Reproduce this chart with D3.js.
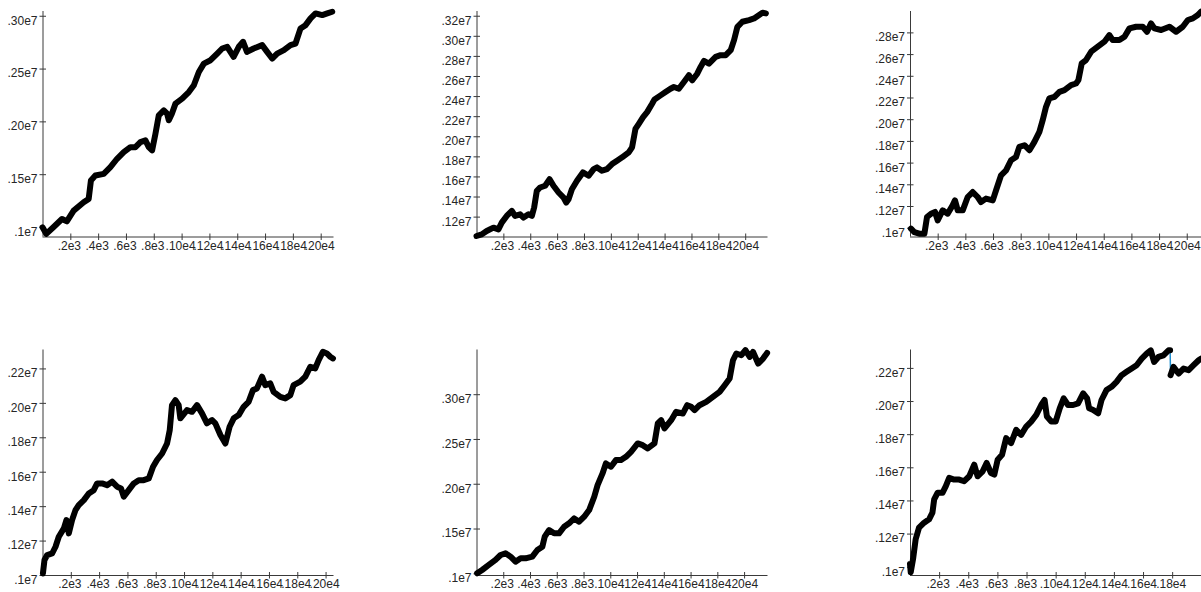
<!DOCTYPE html>
<html>
<head>
<meta charset="utf-8">
<script src="https://cdn.jsdelivr.net/npm/d3@7"></script>
<style>
  html, body { margin: 0; padding: 0; background: #fff; }
  svg { display: block; }
</style>
</head>
<body>
<svg id="chart" width="1201" height="592"></svg>
<script>
// ---- DATA (values in millions; x = sample index) ----
const xTickValues = [200, 400, 600, 800, 1000, 1200, 1400, 1600, 1800, 2000];
const xTickLabels = [".2e3", ".4e3", ".6e3", ".8e3", ".10e4", ".12e4", ".14e4", ".16e4", ".18e4", ".20e4"];

const p1x = [0, 27, 80, 140, 175, 224, 296, 332, 348, 380, 440, 488, 536, 584, 632, 668, 704, 740, 764, 788, 812, 836, 872, 896, 908, 930, 956, 1004, 1052, 1088, 1124, 1160, 1208, 1256, 1292, 1328, 1374, 1411, 1442, 1470, 1518, 1579, 1615, 1651, 1687, 1735, 1783, 1819, 1855, 1891, 1927, 1963, 2011, 2047, 2083];
const p1y = [0.997, 0.935, 1.0, 1.076, 1.054, 1.155, 1.234, 1.266, 1.44, 1.487, 1.503, 1.566, 1.646, 1.709, 1.756, 1.756, 1.804, 1.82, 1.756, 1.725, 1.883, 2.057, 2.104, 2.073, 2.01, 2.073, 2.168, 2.215, 2.278, 2.342, 2.468, 2.547, 2.579, 2.642, 2.69, 2.706, 2.611, 2.706, 2.753, 2.658, 2.69, 2.722, 2.658, 2.595, 2.642, 2.674, 2.722, 2.737, 2.88, 2.911, 2.975, 3.022, 3.006, 3.022, 3.038];

const p2x = [0, 39, 76, 126, 163, 188, 225, 263, 287, 325, 350, 387, 412, 429, 449, 474, 511, 544, 573, 611, 648, 668, 685, 710, 748, 792, 835, 872, 897, 934, 971, 1009, 1046, 1084, 1133, 1158, 1183, 1208, 1240, 1270, 1307, 1325, 1370, 1407, 1444, 1469, 1506, 1544, 1581, 1606, 1643, 1668, 1693, 1730, 1780, 1817, 1855, 1892, 1917, 1942, 1979, 2029, 2066, 2104, 2129, 2154];
const p2y = [1.007, 1.023, 1.057, 1.09, 1.073, 1.14, 1.207, 1.257, 1.207, 1.223, 1.19, 1.223, 1.207, 1.29, 1.457, 1.49, 1.507, 1.573, 1.507, 1.44, 1.39, 1.34, 1.373, 1.473, 1.557, 1.64, 1.607, 1.673, 1.69, 1.657, 1.673, 1.723, 1.757, 1.79, 1.84, 1.89, 2.073, 2.123, 2.19, 2.24, 2.323, 2.367, 2.407, 2.44, 2.473, 2.49, 2.473, 2.54, 2.607, 2.557, 2.623, 2.69, 2.75, 2.723, 2.79, 2.807, 2.807, 2.857, 2.957, 3.09, 3.14, 3.157, 3.173, 3.207, 3.23, 3.223];

const p3x = [7, 31, 67, 104, 123, 152, 181, 200, 236, 272, 308, 325, 345, 381, 417, 453, 489, 513, 549, 598, 622, 658, 694, 730, 766, 790, 827, 863, 899, 935, 959, 983, 1007, 1044, 1080, 1116, 1164, 1200, 1217, 1241, 1272, 1309, 1357, 1405, 1441, 1465, 1513, 1550, 1586, 1634, 1682, 1713, 1742, 1766, 1815, 1875, 1923, 1971, 2008, 2044, 2080, 2104];
const p3y = [0.991, 0.96, 0.945, 0.945, 1.098, 1.129, 1.145, 1.068, 1.16, 1.129, 1.206, 1.252, 1.16, 1.16, 1.283, 1.329, 1.283, 1.237, 1.268, 1.252, 1.345, 1.483, 1.529, 1.622, 1.652, 1.745, 1.76, 1.714, 1.791, 1.883, 1.991, 2.114, 2.191, 2.206, 2.252, 2.268, 2.314, 2.329, 2.36, 2.514, 2.545, 2.622, 2.668, 2.714, 2.775, 2.729, 2.729, 2.76, 2.837, 2.852, 2.852, 2.806, 2.883, 2.837, 2.822, 2.852, 2.806, 2.852, 2.914, 2.929, 2.96, 2.991];

const p4x = [3, 14, 33, 68, 92, 115, 151, 169, 186, 209, 233, 256, 292, 327, 362, 386, 421, 456, 492, 527, 555, 574, 609, 645, 680, 715, 751, 781, 809, 845, 880, 899, 915, 939, 962, 974, 1021, 1056, 1092, 1127, 1162, 1198, 1221, 1257, 1292, 1322, 1351, 1386, 1421, 1456, 1487, 1515, 1551, 1574, 1609, 1633, 1680, 1715, 1751, 1774, 1821, 1857, 1892, 1927, 1951, 1981, 2009, 2033, 2052];
const p4y = [1.009, 1.087, 1.116, 1.125, 1.164, 1.222, 1.271, 1.319, 1.242, 1.319, 1.377, 1.406, 1.435, 1.474, 1.493, 1.532, 1.532, 1.522, 1.542, 1.513, 1.503, 1.455, 1.493, 1.532, 1.551, 1.551, 1.561, 1.629, 1.668, 1.706, 1.764, 1.842, 1.987, 2.016, 1.987, 1.91, 1.958, 1.948, 1.987, 1.939, 1.881, 1.9, 1.881, 1.813, 1.764, 1.861, 1.91, 1.929, 1.977, 2.006, 2.074, 2.084, 2.152, 2.103, 2.113, 2.064, 2.035, 2.026, 2.045, 2.103, 2.123, 2.152, 2.21, 2.2, 2.248, 2.297, 2.287, 2.268, 2.258];

const p5x = [5, 42, 92, 142, 180, 217, 255, 292, 330, 367, 417, 455, 492, 510, 542, 580, 617, 655, 692, 730, 767, 805, 842, 880, 905, 942, 967, 1005, 1042, 1080, 1117, 1155, 1205, 1242, 1280, 1330, 1355, 1380, 1405, 1455, 1492, 1542, 1575, 1605, 1630, 1667, 1717, 1767, 1817, 1855, 1892, 1917, 1942, 1980, 2010, 2042, 2067, 2105, 2142, 2172];
const p5y = [1.0, 1.037, 1.093, 1.149, 1.204, 1.223, 1.186, 1.13, 1.167, 1.167, 1.186, 1.26, 1.297, 1.409, 1.483, 1.446, 1.446, 1.52, 1.558, 1.613, 1.576, 1.632, 1.706, 1.855, 1.985, 2.115, 2.227, 2.19, 2.264, 2.264, 2.301, 2.357, 2.45, 2.431, 2.394, 2.45, 2.673, 2.71, 2.617, 2.71, 2.803, 2.784, 2.877, 2.859, 2.822, 2.877, 2.914, 2.97, 3.026, 3.1, 3.175, 3.379, 3.454, 3.435, 3.491, 3.416, 3.472, 3.342, 3.398, 3.461];

const p6x = [0, 5, 21, 39, 62, 97, 131, 154, 166, 189, 223, 246, 269, 303, 338, 372, 407, 441, 464, 499, 526, 556, 579, 602, 632, 660, 694, 729, 763, 798, 832, 867, 901, 924, 940, 970, 1000, 1028, 1055, 1085, 1120, 1154, 1189, 1216, 1230, 1258, 1292, 1315, 1349, 1384, 1418, 1453, 1487, 1522, 1556, 1591, 1625, 1653, 1676, 1706, 1740, 1775, 1786, 1789, 1809, 1844, 1878, 1913, 1947, 1982, 1998];
const p6y = [1.016, 0.966, 1.046, 1.166, 1.236, 1.266, 1.286, 1.326, 1.406, 1.446, 1.446, 1.486, 1.536, 1.526, 1.526, 1.516, 1.546, 1.616, 1.546, 1.576, 1.626, 1.566, 1.556, 1.646, 1.676, 1.776, 1.746, 1.826, 1.796, 1.846, 1.876, 1.916, 1.976, 2.006, 1.906, 1.876, 1.876, 1.956, 2.016, 1.976, 1.976, 1.986, 2.046, 2.016, 1.956, 1.946, 1.926, 2.006, 2.066, 2.086, 2.116, 2.156, 2.176, 2.196, 2.216, 2.256, 2.286, 2.306, 2.236, 2.266, 2.276, 2.306, 2.306, 2.156, 2.206, 2.166, 2.196, 2.186, 2.216, 2.246, 2.256];

// y tick values (millions) and their labels, per panel
const p1yTicks = [1.0, 1.5, 2.0, 2.5, 3.0];
const p1yLabels = [".1e7", ".15e7", ".20e7", ".25e7", ".30e7"];
const p2yTicks = [1.2, 1.4, 1.6, 1.8, 2.0, 2.2, 2.4, 2.6, 2.8, 3.0, 3.2];
const p2yLabels = [".12e7", ".14e7", ".16e7", ".18e7", ".20e7", ".22e7", ".24e7", ".26e7", ".28e7", ".30e7", ".32e7"];
const p3yTicks = [1.0, 1.2, 1.4, 1.6, 1.8, 2.0, 2.2, 2.4, 2.6, 2.8];
const p3yLabels = [".1e7", ".12e7", ".14e7", ".16e7", ".18e7", ".20e7", ".22e7", ".24e7", ".26e7", ".28e7"];
const p4yTicks = [1.0, 1.2, 1.4, 1.6, 1.8, 2.0, 2.2];
const p4yLabels = [".1e7", ".12e7", ".14e7", ".16e7", ".18e7", ".20e7", ".22e7"];
const p5yTicks = [1.0, 1.5, 2.0, 2.5, 3.0];
const p5yLabels = [".1e7", ".15e7", ".20e7", ".25e7", ".30e7"];
const p6yTicks = [1.0, 1.2, 1.4, 1.6, 1.8, 2.0, 2.2];
const p6yLabels = [".1e7", ".12e7", ".14e7", ".16e7", ".18e7", ".20e7", ".22e7"];

// axis extents (sample count and value range shown by each panel)
const xMax = [2092, 2166, 2103, 2056, 2175, 1998];
const yMin = [0.91, 1.002, 0.919, 1.0, 0.981, 0.95];
const yMax = [3.045, 3.247, 2.997, 2.31, 3.499, 2.311];

// ---- LAYOUT ----
const panels = [
  {x: p1x, y: p1y, yt: p1yTicks, yl: p1yLabels},
  {x: p2x, y: p2y, yt: p2yTicks, yl: p2yLabels},
  {x: p3x, y: p3y, yt: p3yTicks, yl: p3yLabels},
  {x: p4x, y: p4y, yt: p4yTicks, yl: p4yLabels},
  {x: p5x, y: p5y, yt: p5yTicks, yl: p5yLabels},
  {x: p6x, y: p6y, yt: p6yTicks, yl: p6yLabels}
];
const colLeft = [42.5, 476.5, 910];
const rowTop = [11, 349.5];
const rowBottom = [236.5, 575];
const plotW = 291;

const axisColor = "#3a3a3a";
const textColor = "#262626";
const font = "Arial, 'Liberation Sans', sans-serif";

const svg = d3.select("#chart");

panels.forEach((p, i) => {
  const c = i % 3, r = Math.floor(i / 3);
  const left = colLeft[c], top = rowTop[r], bottom = rowBottom[r];
  const x = d3.scaleLinear().domain([0, xMax[i]]).range([left, left + plotW]);
  const y = d3.scaleLinear().domain([yMin[i], yMax[i]]).range([bottom, top]);
  const g = svg.append("g");

  // Y axis
  const yAxis = d3.axisLeft(y)
    .tickValues(p.yt)
    .tickFormat((d, k) => p.yl[k])
    .tickSizeInner(3).tickSizeOuter(0).tickPadding(6);
  const ya = g.append("g").attr("transform", `translate(${left},0)`).call(yAxis);
  ya.select(".domain").attr("stroke", axisColor).attr("d", `M0.5,${top}V${bottom}`);
  ya.selectAll(".tick line").attr("stroke", axisColor).attr("x1", 3.5).attr("x2", -3);
  ya.selectAll(".tick text")
    .attr("fill", textColor).attr("font-family", font).attr("font-size", 12)
    .attr("dy", "0.7em").attr("y", 0).attr("x", -5);

  // X axis
  const xt = xTickValues.map((v, k) => ({v, l: xTickLabels[k]})).filter(t => t.v <= xMax[i]);
  const xAxis = d3.axisBottom(x)
    .tickValues(xt.map(t => t.v))
    .tickFormat((d, k) => xt[k].l)
    .tickSizeInner(3).tickSizeOuter(0).tickPadding(6);
  const xa = g.append("g").attr("transform", `translate(0,${bottom})`).call(xAxis);
  xa.select(".domain").attr("stroke", axisColor).attr("d", `M${left},0.5H${left + plotW}`);
  xa.selectAll(".tick line").attr("stroke", axisColor).attr("y1", -3).attr("y2", 3.5);
  xa.selectAll(".tick text")
    .attr("fill", textColor).attr("font-family", font).attr("font-size", 12)
    .attr("dx", -1.5).attr("y", 4.5);

  // series
  const pts = p.x.map((xv, k) => [x(xv), y(p.y[k])]);
  const line = d3.line();
  g.append("path").attr("d", line(pts))
    .attr("fill", "none").attr("stroke", "#1f8fd0").attr("stroke-width", 1.5);

  // split dense trace where the series jumps within a few samples
  const segs = [[pts[0]]];
  for (let k = 1; k < pts.length; k++) {
    const dxIdx = p.x[k] - p.x[k - 1];
    const dyPx = Math.abs(pts[k][1] - pts[k - 1][1]);
    if (dxIdx < 6 && dyPx > 12) segs.push([pts[k]]);
    else segs[segs.length - 1].push(pts[k]);
  }
  segs.forEach(s => {
    g.append("path").attr("d", s.length > 1 ? line(s) : `M${s[0][0]},${s[0][1]}Z`)
      .attr("fill", "none").attr("stroke", "#000").attr("stroke-width", 6)
      .attr("stroke-linejoin", "round").attr("stroke-linecap", "round");
  });
});
</script>
</body>
</html>
